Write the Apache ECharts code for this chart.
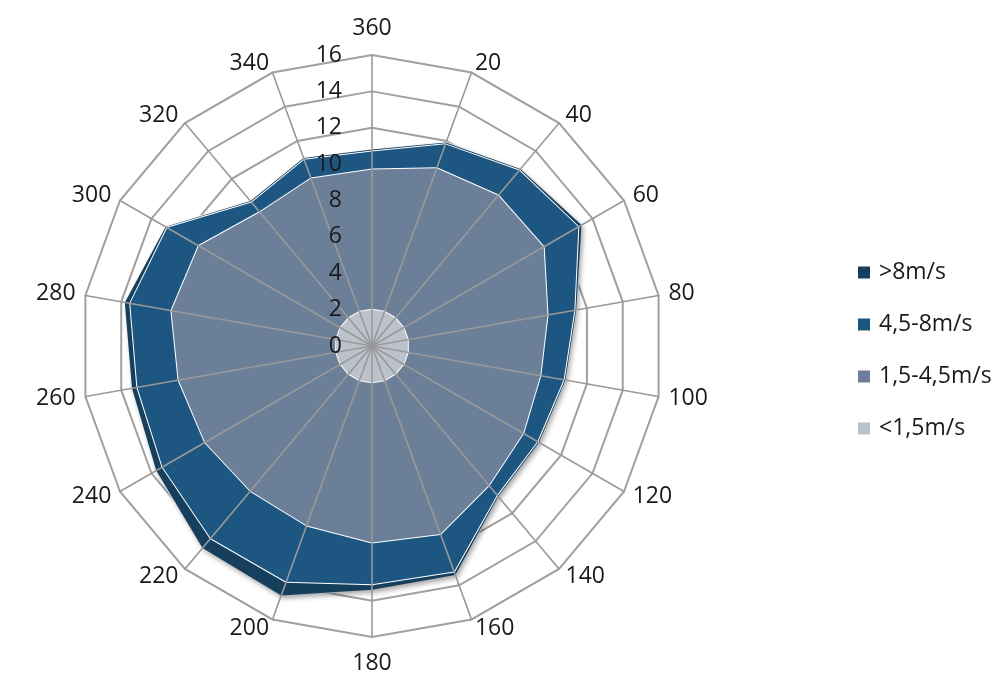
<!DOCTYPE html>
<html>
<head>
<meta charset="utf-8">
<title>Windrose</title>
<script src="https://cdn.jsdelivr.net/npm/echarts@6/dist/echarts.min.js"></script>
<style>
  html, body { margin: 0; padding: 0; background: #ffffff; }
  #chart { width: 1008px; height: 677px; }
</style>
</head>
<body>
<div id="chart"></div>
<script>
// Wind directions in degrees, listed clockwise from north
const directions = ['360', '20', '40', '60', '80', '100', '120', '140', '160',
                    '180', '200', '220', '240', '260', '280', '300', '320', '340'];

// Cumulative frequency per direction for each wind-speed class
const above8 = [10.8, 11.9, 12.7, 13.3, 11.4, 10.8, 10.6, 10.8, 13.4,
                13.4, 14.6, 14.5, 13.7, 13.4, 13.8, 13.1, 10.4, 11.0];
const from45to8 = [10.7, 11.8, 12.6, 13.1, 11.3, 10.7, 10.5, 10.7, 13.2,
                   13.1, 13.8, 13.8, 13.3, 13.1, 13.5, 13.0, 10.3, 10.9];
const from15to45 = [9.7, 10.4, 10.8, 10.9, 9.8, 9.4, 9.6, 10.0, 11.0,
                    10.8, 10.5, 10.4, 10.6, 10.8, 11.2, 11.0, 9.6, 9.8];
const below15 = [2.0, 2.0, 2.0, 2.0, 2.0, 2.0, 2.0, 2.0, 2.0,
                 2.0, 2.0, 2.0, 2.0, 2.0, 2.0, 2.0, 2.0, 2.0];

// Radial scale
const radialMin = 0;
const radialMax = 16;
const radialStep = 2;

const classNames = ['>8m/s', '4,5-8m/s', '1,5-4,5m/s', '<1,5m/s'];
const classColors = ['#163f5e', '#1d5680', '#6b7f99', '#bcc2cc'];
const classValues = [above8, from45to8, from15to45, below15];

// ECharts places radar indicators counter-clockwise, so walk the list backwards
const order = directions.map((d, i) => (directions.length - i) % directions.length);

const FONT = '"Open Sans", "Noto Sans", sans-serif';
const TEXT_COLOR = '#1a1a1a';
const center = [372, 346];
const radius = 291;

const baseIndicators = order.map(i => ({
  name: directions[i],
  min: radialMin,
  max: radialMax,
  nameGap: (i === 0 || i === 9) ? 15 : 10
}));

const topIndicators = order.map((i, k) => ({
  name: directions[i],
  min: radialMin,
  max: radialMax,
  axisLabel: { show: k === 0 }
}));

const splits = (radialMax - radialMin) / radialStep;

const series = classNames.map((name, s) => ({
  type: 'radar',
  name: name,
  radarIndex: 0,
  z: 2 + s,
  symbol: 'none',
  silent: true,
  lineStyle: { color: '#ffffff', width: 2 },
  itemStyle: { color: classColors[s] },
  areaStyle: Object.assign(
    { color: classColors[s], opacity: 1 },
    s === 0 ? { shadowColor: 'rgba(0,0,0,0.35)', shadowBlur: 5, shadowOffsetX: 2, shadowOffsetY: 3 } : {}
  ),
  data: [{ name: name, value: order.map(i => classValues[s][i]) }]
}));

const chart = echarts.init(document.getElementById('chart'), null, { renderer: 'canvas' });
chart.setOption({
  backgroundColor: '#ffffff',
  animation: false,
  legend: {
    orient: 'vertical',
    left: 853,
    top: 256,
    itemWidth: 12,
    itemHeight: 12,
    itemGap: 29,
    icon: 'rect',
    selectedMode: false,
    textStyle: { fontFamily: FONT, fontSize: 23, color: TEXT_COLOR, padding: [0, 0, 0, 4] },
    data: classNames.map((n, s) => ({ name: n, itemStyle: { color: classColors[s], borderWidth: 0 } }))
  },
  radar: [
    {
      // rings and direction names, beneath the filled areas
      center: center,
      radius: radius,
      startAngle: 90,
      shape: 'polygon',
      splitNumber: splits,
      z: 0,
      indicator: baseIndicators,
      axisName: { color: TEXT_COLOR, fontFamily: FONT, fontSize: 23 },
      axisLine: { show: false },
      axisTick: { show: false },
      axisLabel: { show: false },
      splitArea: { show: false },
      splitLine: { lineStyle: { color: '#a0a0a0', width: 2 } }
    },
    {
      // spokes and radial labels, drawn over the filled areas
      center: center,
      radius: radius,
      startAngle: 90,
      shape: 'polygon',
      splitNumber: splits,
      z: 10,
      silent: true,
      indicator: topIndicators,
      axisName: { show: false },
      axisLine: { show: true, lineStyle: { color: '#999999', width: 1.6 } },
      axisTick: { show: false },
      axisLabel: { show: false, margin: 30, fontFamily: FONT, fontSize: 23, color: TEXT_COLOR },
      splitArea: { show: false },
      splitLine: { show: false }
    }
  ],
  series: series
});
</script>
</body>
</html>
